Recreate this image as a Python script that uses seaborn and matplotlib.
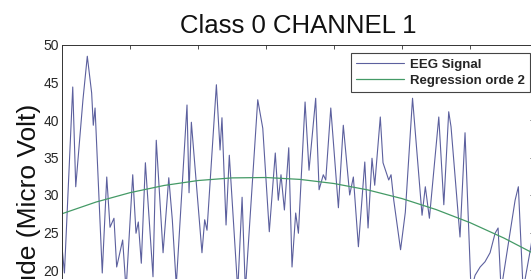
import matplotlib
matplotlib.use('Agg')
import matplotlib.pyplot as plt
import seaborn as sns

# EEG trace, turning points (sample index, micro volt)
sample_idx = [0, 18, 79, 101, 154, 186, 218, 230, 243, 296, 329, 353, 382, 402, 446, 471,
              520, 544, 561, 583, 613, 669, 693, 743, 785, 811, 840, 919, 934, 951, 1029,
              1049, 1066, 1135, 1162, 1176, 1206, 1230, 1292, 1324, 1348, 1439, 1476, 1524,
              1568, 1590, 1610, 1635, 1667, 1691, 1718, 1738, 1787, 1816, 1865, 1890, 1921,
              1939, 1976, 2032, 2068, 2115, 2142, 2179, 2226, 2250, 2279, 2299, 2340, 2360,
              2402, 2419, 2439, 2489, 2524, 2577, 2647, 2671, 2701, 2770, 2807, 2843, 2860,
              2926, 2963, 3007, 3037, 3074, 3110, 3147, 3184, 3206, 3228, 3331, 3355, 3390,
              3449, 3470]
eeg_uv = [23.1, 19.6, 44.4, 31.1, 42.7, 48.5, 43.6, 39.3, 41.6, 19.6, 32.4, 25.7, 26.9, 20.4,
          24.0, 17.3, 32.7, 24.9, 26.4, 20.9, 34.3, 19.1, 37.3, 22.3, 32.3, 26.7, 18.0, 42.0,
          30.3, 39.7, 22.3, 26.7, 25.3, 44.7, 36.0, 40.3, 26.0, 35.3, 17.3, 29.7, 17.3, 42.7,
          38.9, 25.1, 35.6, 29.3, 32.7, 28.0, 36.3, 20.4, 27.6, 24.9, 42.4, 33.3, 42.9, 30.7,
          32.7, 32.0, 41.6, 28.3, 39.3, 30.0, 32.4, 23.1, 34.4, 25.6, 34.9, 31.3, 40.4, 34.3,
          32.0, 32.7, 29.3, 22.7, 27.7, 42.9, 27.3, 31.1, 26.9, 40.4, 28.7, 41.1, 39.1, 24.4,
          38.3, 17.3, 19.3, 20.4, 21.1, 22.3, 24.9, 25.6, 17.3, 29.3, 31.1, 17.3, 23.3, 26.0]

# order-2 regression curve
reg_idx = [0, 250, 500, 750, 1000, 1250, 1500, 1750, 2000, 2250, 2500, 2750, 3000, 3250, 3470]
reg_uv = [27.5, 29.06, 30.31, 31.27, 31.93, 32.28, 32.33, 32.08, 31.53, 30.67, 29.52, 28.06,
          26.31, 24.25, 22.18]

y_ticks = [20, 25, 30, 35, 40, 45, 50]
x_ticks = [0, 500, 1000, 1500, 2000, 2500, 3000]

sns.set_theme(style='white')
plt.rcParams['font.family'] = ['Liberation Sans', 'DejaVu Sans']

fig = plt.figure(figsize=(5.31, 2.79), dpi=100)
# the reference is a crop of a bigger figure: axes run past the bottom and right edges
ax = fig.add_axes([62 / 531, (279 - 420) / 279, 472 / 531, 375 / 279])

sns.lineplot(x=sample_idx, y=eeg_uv, ax=ax, color='#5c609e', linewidth=0.8,
             label='EEG Signal')
sns.lineplot(x=reg_idx, y=reg_uv, ax=ax, color='#449a66', linewidth=0.9,
             label='Regression orde 2')

ax.set_xlim(0, 3470)
ax.set_ylim(0, 50)
ax.set_xticks(x_ticks)
ax.set_yticks(y_ticks)
ax.tick_params(direction='in', length=3, width=0.6, color='#333333', labelsize=10,
               labelcolor='#262626', top=True, right=True, pad=2)
ax.tick_params(axis='x', labelbottom=False)
for sp in ax.spines.values():
    sp.set_color('#333333')
    sp.set_linewidth(0.7)

ax.set_title('Class 0 CHANNEL 1', fontsize=18.5, pad=8.6, color='#111111')
ax.set_ylabel('Amplitude (Micro Volt)', fontsize=19, labelpad=2, color='#111111')
ax.set_xlabel('')

leg = ax.legend(loc='upper right', bbox_to_anchor=(0.9915, 0.9787), borderaxespad=0,
                prop={'weight': 'bold', 'size': 9.5}, handlelength=3.6, handletextpad=0.45,
                borderpad=0.4, labelspacing=0.3, fancybox=False, framealpha=1)
leg.get_frame().set_edgecolor('#444444')
leg.get_frame().set_linewidth(0.8)

fig.savefig('out.png', dpi=100)
